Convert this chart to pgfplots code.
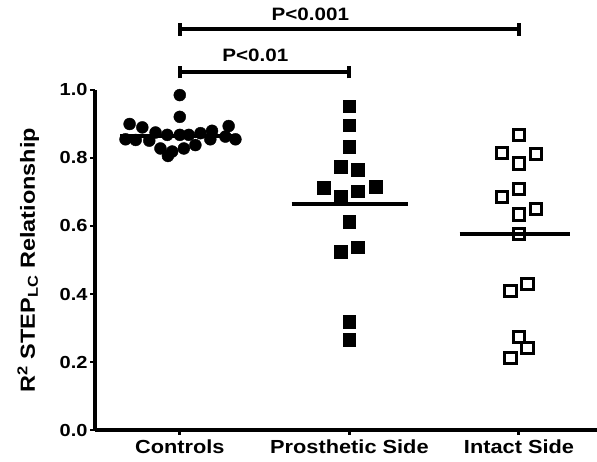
\documentclass[border=0pt]{standalone}
\usepackage{pgfplots}
\pgfplotsset{compat=1.18}
\usepackage{fontspec}
\setmainfont{Liberation Sans}[FakeStretch=1.15]
\begin{document}
\begin{tikzpicture}
\begin{axis}[
  scale only axis,
  width=502bp, height=340bp,
  xmin=0.5, xmax=3.46,
  ymin=0, ymax=1.0,
  clip=false,
  axis lines=left,
  axis line style={-, line width=4pt},
  tick style={line width=3pt, black},
  tick align=outside,
  major tick length=5pt,
  xtick={1,2,3},
  xticklabels={Controls,Prosthetic Side,Intact Side},
  ytick={0,0.2,0.4,0.6,0.8,1.0},
  /pgf/number format/assume math mode=true,
  /pgf/number format/fixed,
  /pgf/number format/fixed zerofill,
  /pgf/number format/precision=1,
  yticklabel style={font=\fontsize{17.5}{20}\selectfont\bfseries, xshift=1pt},
  xticklabel style={font=\fontsize{19}{22}\selectfont\bfseries, yshift=-1pt},
  ylabel={R\textsuperscript{2} STEP\textsubscript{LC} Relationship},
  ylabel style={font=\fontsize{20.5}{24}\selectfont\bfseries, at={(rel axis cs:-0.133,0.5)}, anchor=center},
]
% Controls
\addplot[only marks, mark=*, mark size=6pt, black] table {
x y
0.704 0.900
0.779 0.890
0.857 0.875
0.926 0.868
1.000 0.868
1.053 0.868
1.122 0.873
1.190 0.880
1.288 0.894
0.680 0.855
0.740 0.853
0.820 0.851
0.886 0.828
0.955 0.819
1.024 0.828
1.092 0.838
1.180 0.855
1.269 0.863
1.328 0.855
0.930 0.806
1.000 0.921
1.000 0.985
};
% Prosthetic
\addplot[only marks, mark=square*, mark size=6.3pt, black] table {
x y
2.000 0.953
2.000 0.897
2.000 0.833
1.950 0.774
2.050 0.765
1.850 0.713
1.950 0.688
2.050 0.703
2.155 0.716
2.000 0.613
1.950 0.524
2.050 0.537
2.000 0.319
2.000 0.265
};
% Intact
\addplot[only marks, mark=square, mark size=5.6pt, line width=3pt, black] table {
x y
3.000 0.868
2.900 0.814
3.100 0.811
3.000 0.784
3.000 0.708
2.900 0.686
3.100 0.649
3.000 0.634
3.000 0.576
2.950 0.409
3.050 0.429
3.000 0.274
3.050 0.240
2.950 0.211
};
% means
\addplot[line width=4pt, black] coordinates {(0.65,0.865) (1.35,0.865)};
\addplot[line width=4pt, black] coordinates {(1.66,0.665) (2.345,0.665)};
\addplot[line width=4pt, black] coordinates {(2.65,0.576) (3.30,0.576)};
% significance bars
\draw[line width=4pt] (axis cs:1,1.179) -- (axis cs:3,1.179);
\draw[line width=4pt] (axis cs:1,1.16) -- (axis cs:1,1.198);
\draw[line width=4pt] (axis cs:3,1.16) -- (axis cs:3,1.198);
\node[font=\fontsize{18}{21}\selectfont\bfseries] at (axis cs:1.77,1.222) {P<0.001};
\draw[line width=4pt] (axis cs:1,1.053) -- (axis cs:2,1.053);
\draw[line width=4pt] (axis cs:1,1.034) -- (axis cs:1,1.072);
\draw[line width=4pt] (axis cs:2,1.034) -- (axis cs:2,1.072);
\node[font=\fontsize{18}{21}\selectfont\bfseries] at (axis cs:1.445,1.103) {P<0.01};
\coordinate (BL) at (axis cs:0.5,0);
\coordinate (TR) at (axis cs:3.46,1);
\end{axis}
\pgfresetboundingbox
\path[use as bounding box] ([shift={(-95bp,-32bp)}]BL) rectangle ([shift={(0,90bp)}]TR);
\end{tikzpicture}
\end{document}
